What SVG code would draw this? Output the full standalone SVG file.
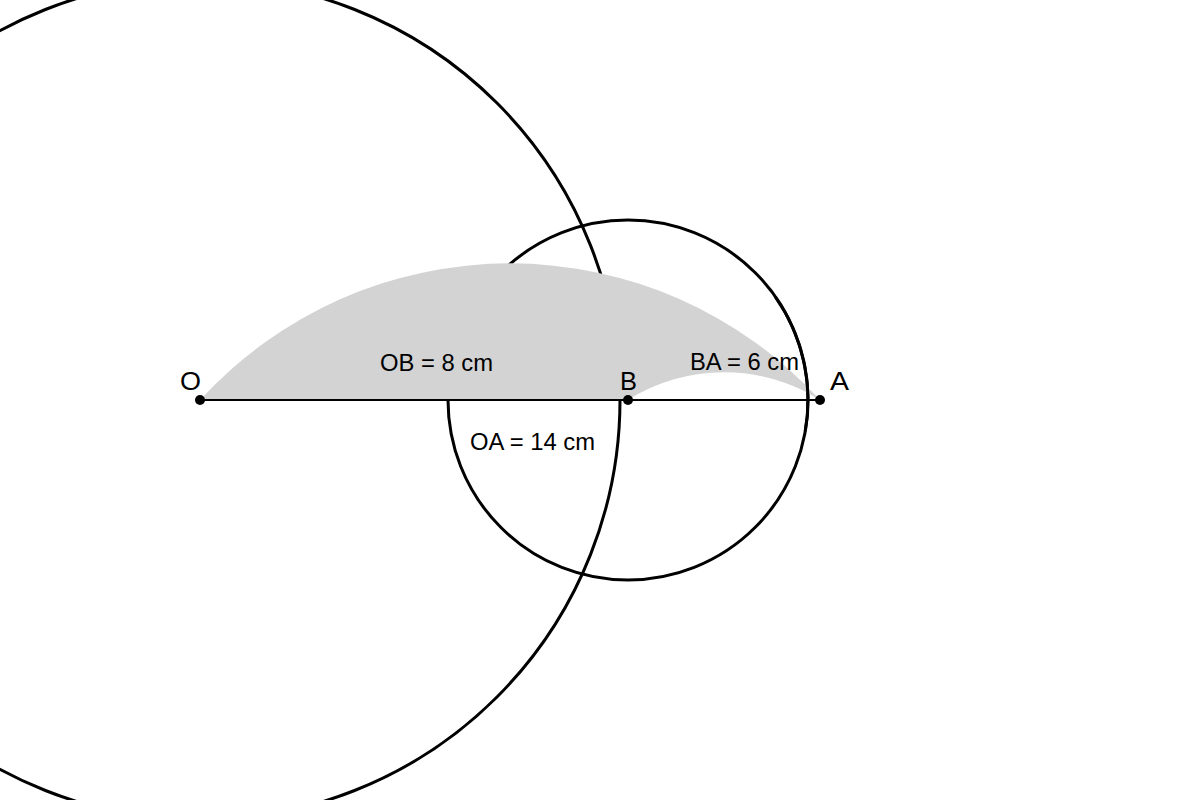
<svg xmlns="http://www.w3.org/2000/svg" width="1200" height="800" viewBox="0 0 1200 800">
  <style>
    .circ { fill: none; stroke: #000; stroke-width: 3; }
    .seg { stroke: #000; stroke-width: 2; fill: none; }
    .pt { fill: #000; }
    .lbl { font-family: "Liberation Sans", Arial, sans-serif; font-size: 25px; fill: #000; }
    .meas { font-family: "Liberation Sans", Arial, sans-serif; font-size: 23px; fill: #000; }
  </style>
  <rect width="1200" height="800" fill="#fff"/>
  <g id="circles">
    <circle id="circle-O" class="circ" cx="200" cy="400" r="420"/>
    <circle id="circle-B" class="circ" cx="628" cy="400" r="180"/>
  </g>
  <g id="shaded-region">
    <path d="M200,400 A420,420 0 0,1 820,400 A180,180 0 0,0 628,400 Z" fill="#d3d3d3"/>
    <path class="circ" d="M775.4,296.8 A180,180 0 0,1 805.3,431.3"/>
  </g>
  <g id="connectors">
    <line class="seg" x1="200" y1="400" x2="820" y2="400"/>
  </g>
  <g id="point-O">
    <circle class="pt" cx="200" cy="400" r="5"/>
    <text class="lbl" x="180" y="390" textLength="21" lengthAdjust="spacingAndGlyphs">O</text>
  </g>
  <g id="point-B">
    <circle class="pt" cx="628" cy="400" r="5"/>
    <text class="lbl" x="620" y="390" textLength="17" lengthAdjust="spacingAndGlyphs">B</text>
  </g>
  <g id="point-A">
    <circle class="pt" cx="820" cy="400" r="5"/>
    <text class="lbl" x="830" y="390" textLength="19" lengthAdjust="spacingAndGlyphs">A</text>
  </g>
  <g id="labels">
    <text class="meas" x="380" y="371" textLength="113" lengthAdjust="spacingAndGlyphs">OB = 8 cm</text>
    <text class="meas" x="690" y="370" textLength="109" lengthAdjust="spacingAndGlyphs">BA = 6 cm</text>
    <text class="meas" x="470" y="450" textLength="125" lengthAdjust="spacingAndGlyphs">OA = 14 cm</text>
  </g>
</svg>
